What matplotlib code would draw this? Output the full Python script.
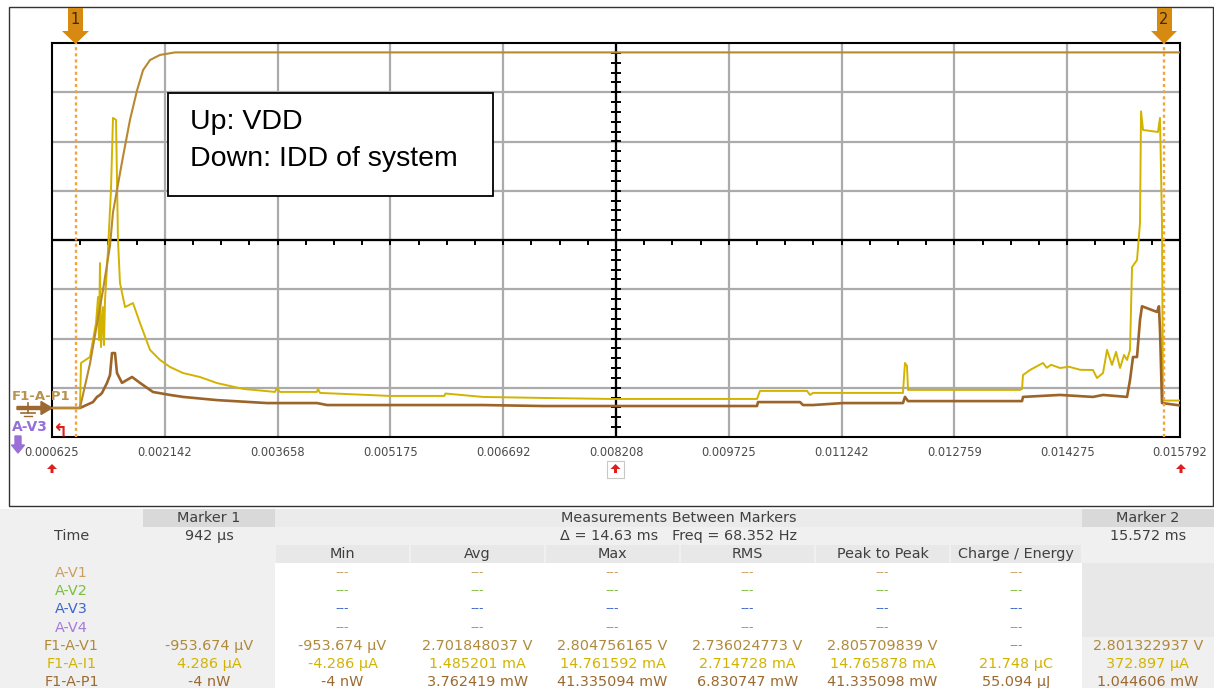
import numpy as np
import matplotlib
matplotlib.use("Agg")
import matplotlib.pyplot as plt
from matplotlib.patches import Rectangle, Polygon, FancyArrow

# ---------------- data ----------------
X_TICK_LABELS = ["0.000625", "0.002142", "0.003658", "0.005175", "0.006692",
                 "0.008208", "0.009725", "0.011242", "0.012759", "0.014275", "0.015792"]
T_START_MS = 0.625
T_END_MS = 15.792
MARKER1_MS = 0.942
MARKER2_MS = 15.572

# VDD (F1-A-V1), volts
VDD_T = [0.625, 1.001, 1.136, 1.311, 1.405, 1.445, 1.512, 1.580, 1.674, 1.768,
         1.849, 1.943, 2.077, 2.279, 15.792]
VDD_V = [0.0, 0.0, 0.35, 0.93, 1.28, 1.54, 1.76, 1.98, 2.27, 2.50,
         2.66, 2.74, 2.78, 2.80, 2.80]

# Current (F1-A-I1), mA
IDD_T = [0.625, 1.001, 1.015, 1.136, 1.217, 1.244, 1.257, 1.270, 1.284, 1.311,
         1.324, 1.338, 1.378, 1.418, 1.445, 1.486, 1.499, 1.512, 1.539, 1.607,
         1.714, 1.808, 1.943, 2.077, 2.212, 2.386, 2.615, 2.844, 3.193, 3.623,
         3.650, 3.690, 4.188, 4.201, 4.229, 5.170, 5.900, 5.915, 6.420, 7.227,
         8.128, 10.104, 10.145, 10.777, 10.817, 10.858, 12.067, 12.094, 12.121, 12.135,
         13.641, 13.668, 13.681, 13.775, 13.950, 14.000, 14.060, 14.178, 14.300, 14.450,
         14.622, 14.676, 14.757, 14.811, 14.878, 14.932, 14.986, 15.040, 15.080, 15.120,
         15.147, 15.214, 15.254, 15.268, 15.295, 15.496, 15.523, 15.550, 15.563, 15.792]
IDD_MA = [0.0, 0.0, 2.24, 2.54, 4.23, 5.52, 3.38, 7.21, 3.03, 5.02,
          3.13, 5.37, 7.86, 10.85, 14.43, 14.33, 11.34, 8.36, 6.22, 5.02,
          5.22, 4.23, 2.89, 2.39, 2.04, 1.74, 1.54, 1.24, 0.95, 0.80,
          1.00, 0.80, 0.80, 0.95, 0.75, 0.60, 0.60, 0.72, 0.55, 0.50,
          0.45, 0.45, 0.85, 0.85, 0.65, 0.75, 0.75, 2.24, 2.09, 0.90,
          0.90, 0.95, 1.64, 1.89, 2.24, 2.00, 2.15, 1.99, 2.05, 1.90,
          1.89, 1.49, 1.74, 2.89, 2.14, 2.79, 1.99, 2.64, 2.39, 2.89,
          7.01, 7.36, 9.20, 14.76, 13.83, 13.73, 14.43, 9.20, 0.37, 0.37]

# Power (F1-A-P1), mW
PWR_T = [0.625, 1.001, 1.176, 1.230, 1.270, 1.297, 1.365, 1.405, 1.432, 1.472,
         1.499, 1.566, 1.701, 1.808, 1.983, 2.212, 2.386, 2.844, 3.516, 4.188,
         4.323, 6.420, 7.227, 10.104, 10.118, 10.683, 10.723, 10.858, 11.261, 12.067,
         12.094, 12.135, 13.668, 13.681, 14.178, 14.622, 14.757, 15.080, 15.120, 15.160,
         15.214, 15.254, 15.281, 15.483, 15.509, 15.523, 15.550, 15.792]
PWR_MW = [0.0, 0.0, 2.4, 4.5, 5.3, 6.1, 10.2, 13.4, 22.3, 22.3,
          14.2, 10.2, 12.6, 10.2, 6.5, 5.3, 4.5, 3.2, 2.0, 2.0,
          1.2, 1.2, 0.8, 0.8, 2.4, 2.4, 1.2, 1.2, 2.0, 2.0,
          4.5, 2.8, 2.8, 4.5, 5.3, 4.5, 5.3, 4.5, 11.4, 20.7,
          20.7, 35.7, 41.3, 39.0, 41.3, 31.7, 2.0, 1.04]

# Table contents
ROW_NAMES = ["A-V1", "A-V2", "A-V3", "A-V4", "F1-A-V1", "F1-A-I1", "F1-A-P1"]
ROW_COLORS = ["#C9A060", "#7DBE3C", "#3D66CC", "#A57BDB", "#B08A3C", "#D2B400", "#9C6A30"]
COL_HEADERS = ["Min", "Avg", "Max", "RMS", "Peak to Peak", "Charge / Energy"]
MARKER1_VALS = ["", "", "", "", "-953.674 µV", "4.286 µA", "-4 nW"]
MIN_VALS = ["---", "---", "---", "---", "-953.674 µV", "-4.286 µA", "-4 nW"]
AVG_VALS = ["---", "---", "---", "---", "2.701848037 V", "1.485201 mA", "3.762419 mW"]
MAX_VALS = ["---", "---", "---", "---", "2.804756165 V", "14.761592 mA", "41.335094 mW"]
RMS_VALS = ["---", "---", "---", "---", "2.736024773 V", "2.714728 mA", "6.830747 mW"]
P2P_VALS = ["---", "---", "---", "---", "2.805709839 V", "14.765878 mA", "41.335098 mW"]
CHG_VALS = ["---", "---", "---", "---", "---", "21.748 µC", "55.094 µJ"]
MARKER2_VALS = ["", "", "", "", "2.801322937 V", "372.897 µA", "1.044606 mW"]

# ---------------- figure ----------------
W, H = 1214, 688
fig = plt.figure(figsize=(W / 100, H / 100), dpi=100)
fig.patch.set_facecolor("white")
plt.rcParams["font.family"] = ["DejaVu Sans"]


def fx(px):
    return px / W


def fy(py):
    return 1 - py / H


def rect(x0, y0, x1, y1, fc, ec="none", lw=0, z=0):
    fig.add_artist(Rectangle((fx(x0), fy(y1)), (x1 - x0) / W, (y1 - y0) / H,
                             transform=fig.transFigure, facecolor=fc,
                             edgecolor=ec, lw=lw, zorder=z))


def ftext(px, py, s, color="#404040", size=10, ha="center", weight="normal", family=None, z=5):
    kw = {}
    if family:
        kw["family"] = family
    fig.text(fx(px), fy(py), s, ha=ha, va="center", color=color, fontsize=size,
             fontweight=weight, zorder=z, **kw)


# outer frame of the scope view
rect(9, 7, 1213, 506, "none", ec="#333333", lw=1.0, z=1)

# plot area
PL, PR, PT, PB = 52, 1180, 43, 437
ax = fig.add_axes([fx(PL), fy(PB), (PR - PL) / W, (PB - PT) / H])
ax.set_xlim(T_START_MS, T_END_MS)
ax.set_ylim(0, 8)
ax.set_xticks([])
ax.set_yticks([])
for sp in ax.spines.values():
    sp.set_color("black")
    sp.set_linewidth(1.5)

xdiv = (T_END_MS - T_START_MS) / 10
xs = np.linspace(T_START_MS, T_END_MS, 11)
for x in xs[1:-1]:
    ax.axvline(x, color="#ABABAB", lw=1.6, zorder=1)
for y in range(1, 8):
    ax.axhline(y, color="#ABABAB", lw=1.6, zorder=1)
xc = xs[5]
ax.axvline(xc, color="black", lw=1.6, zorder=2)
ax.axhline(4, color="black", lw=1.6, zorder=2)
for x in np.arange(T_START_MS, T_END_MS, xdiv / 4):
    ax.plot([x, x], [4, 4 - 0.075], color="black", lw=1.4, zorder=2)
for y in np.arange(0.2, 8, 0.2):
    ax.plot([xc - 0.055, xc + 0.055], [y, y], color="black", lw=1.4, zorder=2)

# channel scaling (value per division) and zero position in divisions
OFFSET_DIV = 0.589
V_PER_DIV = 0.3878
I_PER_DIV = 2.45
P_PER_DIV = 20.0

ax.plot(IDD_T, np.array(IDD_MA) / I_PER_DIV + OFFSET_DIV, color="#D2B400", lw=1.4, zorder=4)
ax.plot(PWR_T, np.array(PWR_MW) / P_PER_DIV + OFFSET_DIV, color="#9C6428", lw=1.9, zorder=4)
ax.plot(VDD_T, np.array(VDD_V) / V_PER_DIV + OFFSET_DIV, color="#B8892E", lw=1.5, zorder=5)

# markers (dotted lines)
for m in (MARKER1_MS, MARKER2_MS):
    ax.axvline(m, color="#F2A33A", lw=1.7, ls=(0, (1.3, 1.3)), zorder=6)


# marker flags
def flag(xc_px, rx0, rx1, tx0, tx1, label):
    fig.add_artist(Polygon([(fx(rx0), fy(8)), (fx(rx1), fy(8)), (fx(rx1), fy(31)),
                            (fx(tx1), fy(31)), (fx(xc_px), fy(44)), (fx(tx0), fy(31)),
                            (fx(rx0), fy(31))], closed=True, transform=fig.transFigure,
                           facecolor="#D68A12", edgecolor="none", zorder=7))
    ftext(xc_px, 19, label, color="#3A2A10", size=10.5, z=8)


flag(75.5, 68, 83, 62, 89, "1")
flag(1164, 1157, 1172, 1151, 1177, "2")

# x tick labels
for i, lab in enumerate(X_TICK_LABELS):
    ftext(PL + i * (PR - PL) / 10, 453, lab, color="#4A4A4A", size=8.3)


# small red arrows under the axis
def red_arrow(px, py):
    fig.add_artist(Polygon([(fx(px), fy(py - 5)), (fx(px + 5), fy(py)), (fx(px + 1.5), fy(py)),
                            (fx(px + 1.5), fy(py + 4)), (fx(px - 1.5), fy(py + 4)),
                            (fx(px - 1.5), fy(py)), (fx(px - 5), fy(py))],
                           closed=True, transform=fig.transFigure, facecolor="#E01E1E",
                           edgecolor="none", zorder=7))


red_arrow(52, 469)
red_arrow(615.5, 469)
red_arrow(1181, 469)
rect(607, 461, 624, 478, "none", ec="#C8C8C8", lw=0.8, z=6)

# left side channel labels
ftext(12, 396, "F1-A-P1", color="#B8924E", size=9.5, ha="left", weight="bold")
fig.add_artist(FancyArrow(fx(17), fy(408), (52 - 17 - 11) / W, 0,
                          width=3 / H, head_width=13 / H, head_length=11 / W,
                          length_includes_head=False, transform=fig.transFigure,
                          color="#9C6A30", zorder=7))
fig.add_artist(plt.Line2D([fx(28), fx(28)], [fy(403), fy(413)], transform=fig.transFigure,
                          color="#9C6A30", lw=1.2, zorder=7))
fig.add_artist(plt.Line2D([fx(21), fx(35)], [fy(413), fy(413)], transform=fig.transFigure,
                          color="#9C6A30", lw=1.2, zorder=7))
fig.add_artist(plt.Line2D([fx(24), fx(32)], [fy(416), fy(416)], transform=fig.transFigure,
                          color="#9C6A30", lw=1.0, zorder=7))
ftext(12, 427, "A-V3", color="#9570D8", size=10, ha="left", weight="bold")
ftext(61, 431, "↰", color="#E01E1E", size=13, ha="center", weight="bold")
fig.add_artist(FancyArrow(fx(18), fy(436), 0, -(9) / H, width=6 / W,
                          head_width=13 / W, head_length=8 / H,
                          transform=fig.transFigure, color="#9A6FD6", zorder=7))

# annotation box
rect(168, 93, 493, 196, "white", ec="black", lw=1.3, z=8)
ftext(190, 122, "Up: VDD", color="black", size=20.5, ha="left", family="Liberation Sans", z=9)
ftext(190, 159, "Down: IDD of system", color="black", size=20.5, ha="left",
      family="Liberation Sans", z=9)

# ---------------- measurement table ----------------
COLS = [0, 143, 275, 410, 545, 680, 815, 950, 1082, 1214]
ROWS = [509, 527, 545, 563, 582, 600, 618, 637, 655, 673, 691]
rect(0, 509, W, H, "#F0F0F0", z=0)
rect(COLS[2], ROWS[0], COLS[8], ROWS[1], "#EBEBEB", z=0.5)
rect(COLS[1], ROWS[0], COLS[2], ROWS[1], "#D9D9D9", z=0.5)
rect(COLS[8], ROWS[0], COLS[9], ROWS[1], "#D9D9D9", z=0.5)
for c in range(2, 8):
    rect(COLS[c] + 1, ROWS[2], COLS[c + 1] - 1, ROWS[3], "#E8E8E8", z=0.5)
rect(COLS[2], ROWS[3], COLS[8], H, "white", z=0.5)
rect(COLS[8], ROWS[3], COLS[9], ROWS[7], "#E8E8E8", z=0.5)

TS = 10.4
ftext((COLS[1] + COLS[2]) / 2, 518, "Marker 1", size=TS)
ftext((COLS[2] + COLS[8]) / 2, 518, "Measurements Between Markers", size=TS)
ftext((COLS[8] + COLS[9]) / 2, 518, "Marker 2", size=TS)
ftext((COLS[0] + COLS[1]) / 2, 536, "Time", size=TS)
ftext((COLS[1] + COLS[2]) / 2, 536, "942 µs", size=TS)
ftext((COLS[2] + COLS[8]) / 2, 536, "Δ = 14.63 ms   Freq = 68.352 Hz", size=TS)
ftext((COLS[8] + COLS[9]) / 2, 536, "15.572 ms", size=TS)
for c, hname in enumerate(COL_HEADERS):
    ftext((COLS[c + 2] + COLS[c + 3]) / 2, 554, hname, size=TS)

row_y = [573, 591, 609, 628, 646, 664, 682]
table_cols = [MARKER1_VALS, MIN_VALS, AVG_VALS, MAX_VALS, RMS_VALS, P2P_VALS, CHG_VALS, MARKER2_VALS]
for r, name in enumerate(ROW_NAMES):
    col = ROW_COLORS[r]
    ftext((COLS[0] + COLS[1]) / 2, row_y[r], name, color=col, size=TS)
    for c, vals in enumerate(table_cols):
        s = vals[r]
        if s:
            ftext((COLS[c + 1] + COLS[c + 2]) / 2, row_y[r], s, color=col,
                  size=(9 if s == "---" else TS))

fig.savefig("out.png", dpi=100, facecolor="white")
